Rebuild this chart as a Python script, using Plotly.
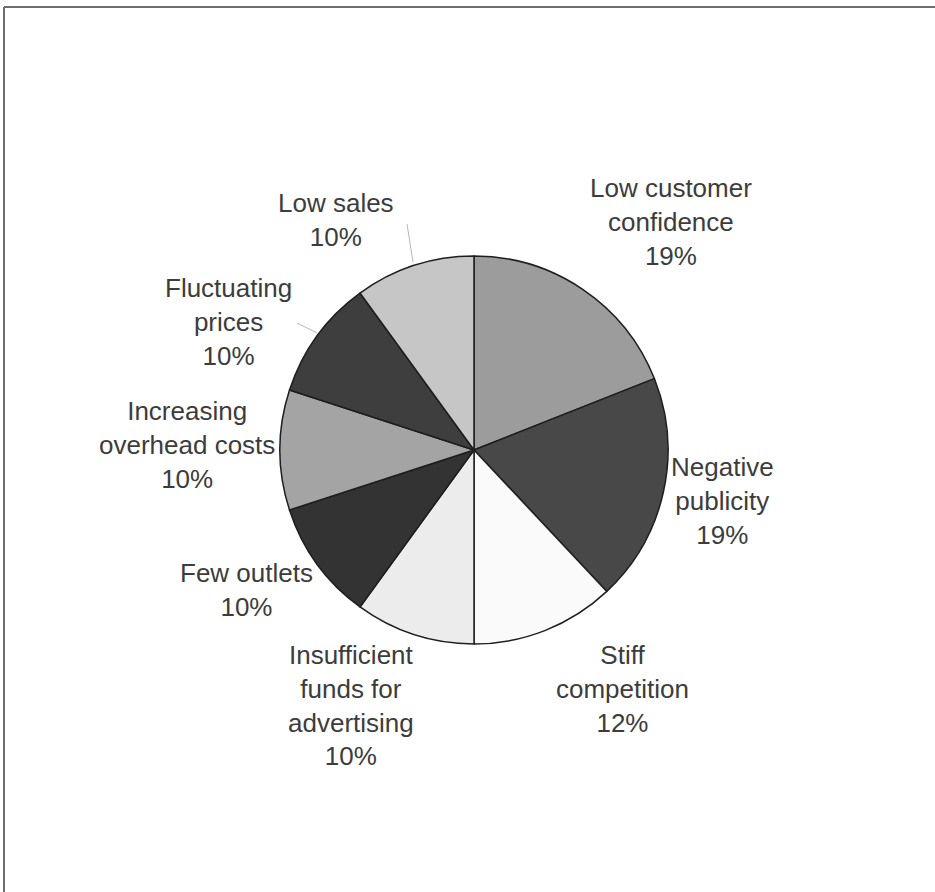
import plotly.graph_objects as go

labels = ["Low customer confidence", "Negative publicity", "Stiff competition",
          "Insufficient funds for advertising", "Few outlets",
          "Increasing overhead costs", "Fluctuating prices", "Low sales"]
values = [19, 19, 12, 10, 10, 10, 10, 10]
label_text = ["Low customer<br>confidence", "Negative<br>publicity", "Stiff<br>competition",
              "Insufficient<br>funds for<br>advertising", "Few outlets",
              "Increasing<br>overhead costs", "Fluctuating<br>prices", "Low sales"]
colors = ["#9c9c9c", "#484848", "#fafafa", "#ececec", "#333333",
          "#a4a4a4", "#3e3e3e", "#c6c6c6"]
# label centres in pixels (x, y from top)
label_pos = [(671, 222), (722, 501), (622, 689), (351, 705),
             (246, 590), (187, 445), (228, 322), (336, 220)]

W, H = 935, 892
cx, cy, r = 474, 450, 194

fig = go.Figure(go.Pie(
    labels=labels, values=values, sort=False, direction="clockwise", rotation=0,
    marker=dict(colors=colors, line=dict(color="#1e1e1e", width=1.5)),
    textinfo="none", hoverinfo="label+percent", showlegend=False,
    domain=dict(x=[(cx - r) / W, (cx + r) / W], y=[1 - (cy + r) / H, 1 - (cy - r) / H]),
))

for txt, v, (px, py) in zip(label_text, values, label_pos):
    fig.add_annotation(x=px / W, y=1 - py / H, xref="paper", yref="paper",
                       text=f"{txt}<br>{v}%", showarrow=False, align="center",
                       xanchor="center", yanchor="middle",
                       font=dict(family="Liberation Sans, Arial, sans-serif", size=26, color="#3c3c3c"))

shapes = [
    dict(type="line", xref="paper", yref="paper", x0=4 / W, x1=1, y0=1 - 7 / H, y1=1 - 7 / H,
         line=dict(color="#6e6e6e", width=2)),
    dict(type="line", xref="paper", yref="paper", x0=4 / W, x1=4 / W, y0=0, y1=1 - 7 / H,
         line=dict(color="#6e6e6e", width=2)),
    dict(type="line", xref="paper", yref="paper", x0=407 / W, x1=413 / W, y0=1 - 224 / H, y1=1 - 262 / H,
         line=dict(color="#b8b8b8", width=1)),
    dict(type="line", xref="paper", yref="paper", x0=297 / W, x1=317 / W, y0=1 - 323 / H, y1=1 - 333 / H,
         line=dict(color="#b8b8b8", width=1)),
]
fig.update_layout(width=W, height=H, margin=dict(l=0, r=0, t=0, b=0),
                  paper_bgcolor="white", plot_bgcolor="white", shapes=shapes)
fig.write_html("out.html")
